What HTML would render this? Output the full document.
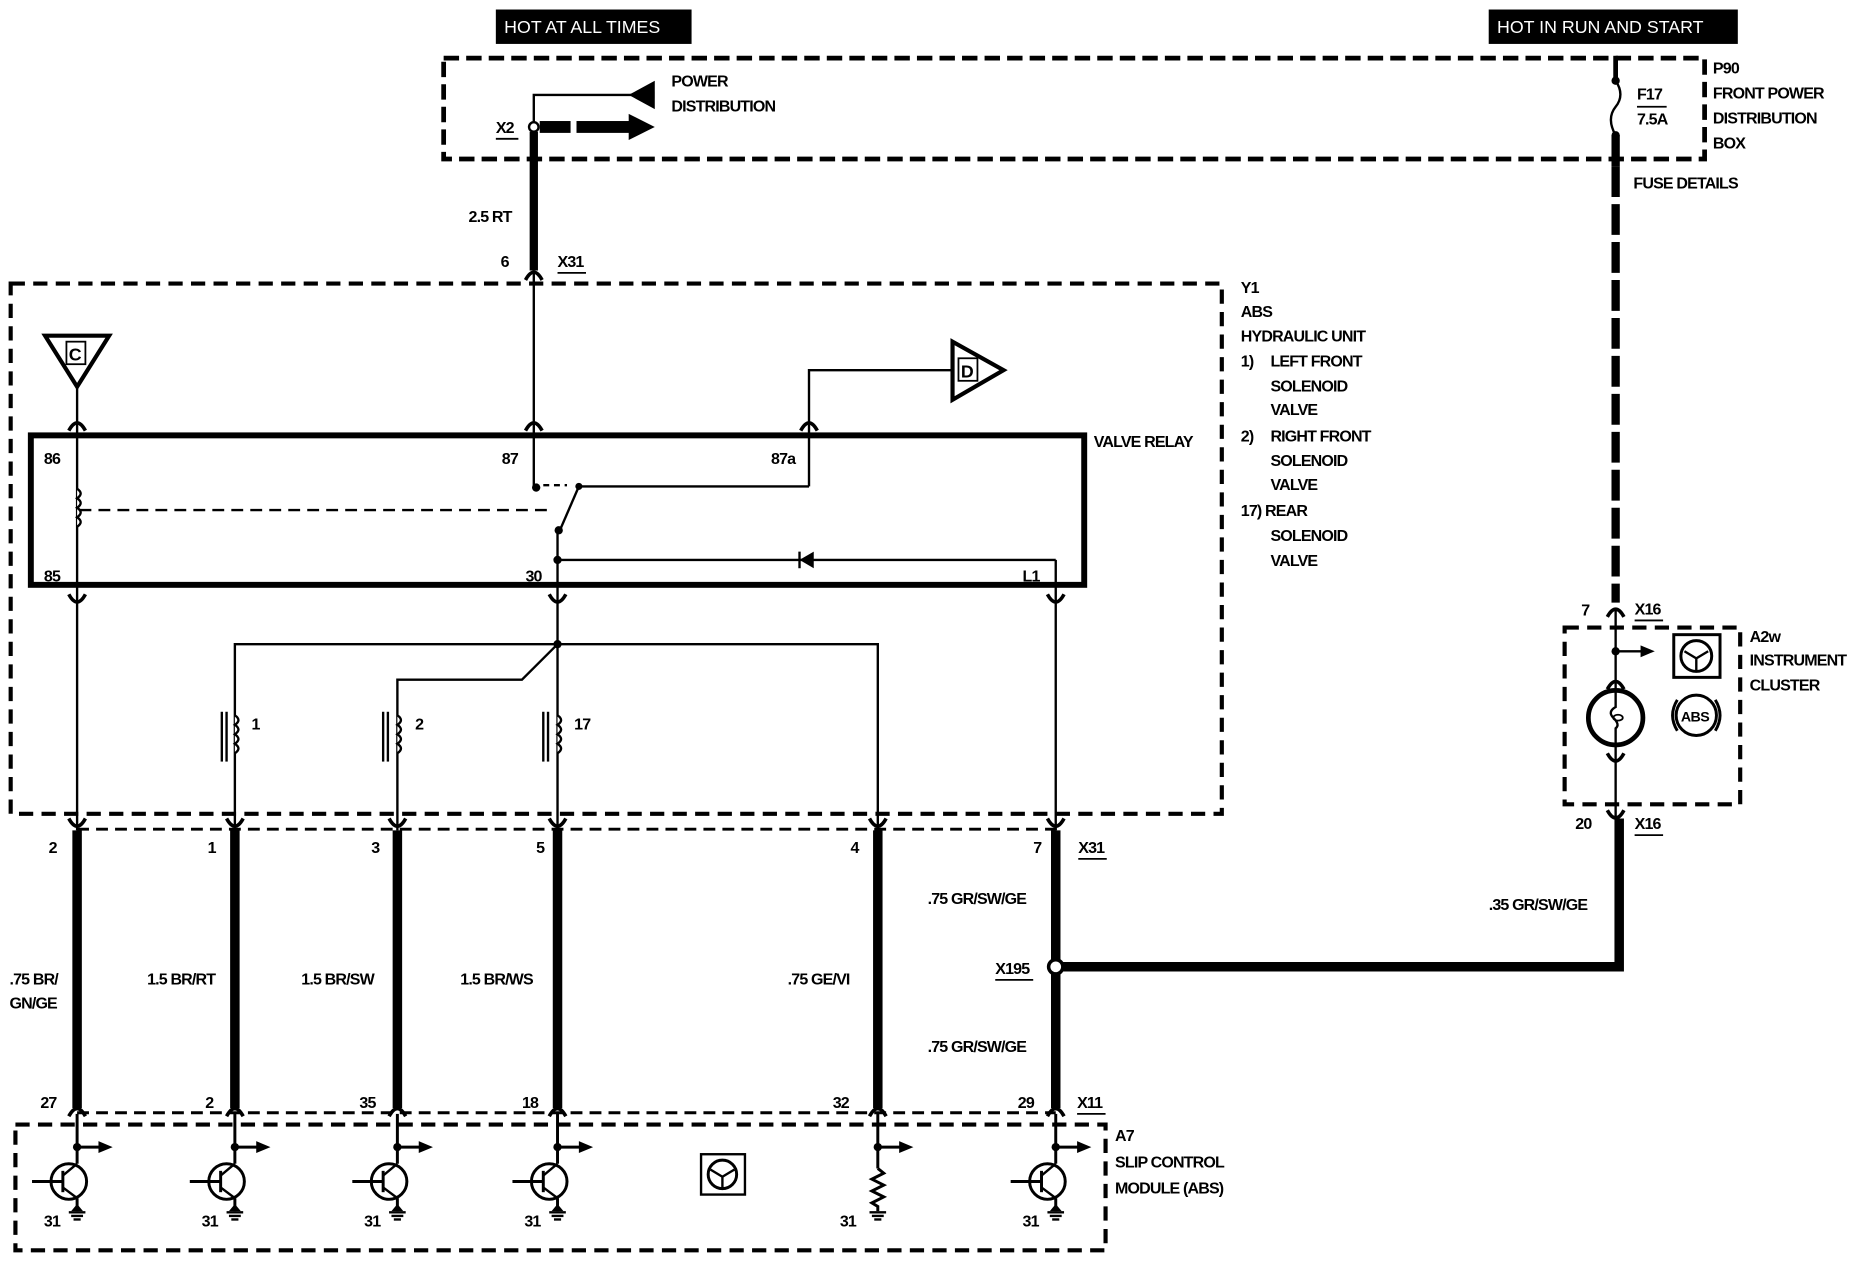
<!DOCTYPE html>
<html><head><meta charset="utf-8"><style>
html,body{margin:0;padding:0;background:#fff;}
svg{display:block;}
text{font-family:"Liberation Sans",sans-serif;font-weight:bold;font-size:13.5px;letter-spacing:-0.7px;fill:#000;}
.w{fill:#fff;font-weight:normal;font-size:15px;letter-spacing:0;}
</style></head><body>
<svg width="1860" height="1280" viewBox="0 0 1568 1079" xmlns="http://www.w3.org/2000/svg">
<defs>
<g id="cu"><path d="M-7,7 Q0,-6 7,7" fill="none" stroke="#000" stroke-width="3"/></g>
<g id="cd"><path d="M-7,-5 Q0,8 7,-5" fill="none" stroke="#000" stroke-width="3"/></g>
<g id="tr">
<line x1="0" y1="-28" x2="0" y2="14" stroke="#000" stroke-width="2.5"/>
<circle cx="0" cy="0" r="3.5"/>
<line x1="0" y1="0" x2="20" y2="0" stroke="#000" stroke-width="2.5"/>
<path d="M18,-5 L30,0 L18,5Z"/>
<circle cx="-7" cy="29" r="15" fill="none" stroke="#000" stroke-width="2.5"/>
<line x1="-12" y1="20" x2="-12" y2="38" stroke="#000" stroke-width="2.5"/>
<line x1="-38" y1="29" x2="-12" y2="29" stroke="#000" stroke-width="2.5"/>
<line x1="-12" y1="24" x2="0" y2="14" stroke="#000" stroke-width="2"/>
<line x1="-12" y1="34" x2="0" y2="43" stroke="#000" stroke-width="2"/>
<line x1="0" y1="43" x2="0" y2="54" stroke="#000" stroke-width="2.5"/>
<path d="M-5,54 L0,48 L5,54Z"/>
<line x1="-7" y1="55" x2="7" y2="55" stroke="#000" stroke-width="2"/>
<line x1="-5" y1="58" x2="5" y2="58" stroke="#000" stroke-width="2"/>
<line x1="-3" y1="61" x2="3" y2="61" stroke="#000" stroke-width="2"/>
<text x="-28" y="67">31</text>
</g>
</defs>

<!-- header labels -->
<rect x="418" y="8" width="165" height="29" fill="#000"/>
<text class="w" x="425" y="28">HOT AT ALL TIMES</text>
<rect x="1255" y="8" width="210" height="29" fill="#000"/>
<text class="w" x="1262" y="28">HOT IN RUN AND START</text>

<!-- P90 box -->
<path d="M374,49 L1437,49 L1437,134 L374,134 Z" fill="none" stroke="#000" stroke-width="4" stroke-dasharray="13,6"/>
<text x="1444" y="62">P90</text>
<text x="1444" y="83">FRONT POWER</text>
<text x="1444" y="104">DISTRIBUTION</text>
<text x="1444" y="125">BOX</text>
<text x="1377" y="159">FUSE DETAILS</text>
<text x="1380" y="84">F17</text>
<line x1="1380" y1="90" x2="1405" y2="90" stroke="#000" stroke-width="1.5"/>
<text x="1380" y="105">7.5A</text>
<!-- fuse -->
<line x1="1362" y1="47" x2="1362" y2="68" stroke="#000" stroke-width="4"/>
<circle cx="1362" cy="68" r="3.5"/>
<path d="M1362,68 Q1370,80 1362,90 Q1354,100 1362,114" fill="none" stroke="#000" stroke-width="2"/>
<circle cx="1362" cy="114" r="3.5"/>
<line x1="1362" y1="114" x2="1362" y2="140" stroke="#000" stroke-width="7"/>
<line x1="1362" y1="140" x2="1362" y2="508" stroke="#000" stroke-width="7" stroke-dasharray="26,6"/>

<!-- power distribution -->
<text x="566" y="73">POWER</text>
<text x="566" y="94">DISTRIBUTION</text>
<path d="M450,107 L450,80 L533,80" fill="none" stroke="#000" stroke-width="2"/>
<path d="M530,80 L552,68 L552,92 Z"/>
<rect x="455" y="102" width="26" height="10"/>
<rect x="486" y="102" width="46" height="10"/>
<path d="M530,96 L552,107 L530,118 Z"/>
<circle cx="450" cy="107" r="4" fill="#fff" stroke="#000" stroke-width="2"/>
<text x="418" y="112">X2</text>
<line x1="418" y1="117" x2="437" y2="117" stroke="#000" stroke-width="1.5"/>
<line x1="450" y1="111" x2="450" y2="228" stroke="#000" stroke-width="7"/>
<text x="395" y="187">2.5 RT</text>
<text x="422" y="225">6</text>
<text x="470" y="225">X31</text>
<line x1="470" y1="230" x2="494" y2="230" stroke="#000" stroke-width="1.5"/>
<use href="#cu" x="450" y="229"/>

<!-- Y1 box -->
<path d="M9,239 L1030,239 L1030,686 L9,686 Z" fill="none" stroke="#000" stroke-width="3.5" stroke-dasharray="12,7"/>
<text x="1046" y="247">Y1</text>
<text x="1046" y="267">ABS</text>
<text x="1046" y="288">HYDRAULIC UNIT</text>
<text x="1046" y="309">1)</text><text x="1071" y="309">LEFT FRONT</text>
<text x="1071" y="330">SOLENOID</text>
<text x="1071" y="350">VALVE</text>
<text x="1046" y="372">2)</text><text x="1071" y="372">RIGHT FRONT</text>
<text x="1071" y="393">SOLENOID</text>
<text x="1071" y="413">VALVE</text>
<text x="1046" y="435">17) REAR</text>
<text x="1071" y="456">SOLENOID</text>
<text x="1071" y="477">VALVE</text>

<!-- C and D -->
<path d="M38,283 L92,283 L65,326 Z" fill="#fff" stroke="#000" stroke-width="3.5"/>
<rect x="56" y="288" width="16" height="19" fill="none" stroke="#000" stroke-width="1.5"/>
<text x="58" y="304" style="font-size:15px;letter-spacing:0">C</text>
<path d="M803,288 L846,312 L803,337 Z" fill="#fff" stroke="#000" stroke-width="3.5"/>
<rect x="808" y="302" width="16" height="19" fill="none" stroke="#000" stroke-width="1.5"/>
<text x="810" y="318" style="font-size:15px;letter-spacing:0">D</text>
<path d="M682,358 L682,312 L803,312" fill="none" stroke="#000" stroke-width="2"/>
<line x1="65" y1="326" x2="65" y2="700" stroke="#000" stroke-width="2"/>
<line x1="450" y1="231" x2="450" y2="410" stroke="#000" stroke-width="2"/>
<line x1="682" y1="358" x2="682" y2="410" stroke="#000" stroke-width="2"/>
<use href="#cu" x="65" y="356"/>
<use href="#cu" x="450" y="356"/>
<use href="#cu" x="682" y="356"/>

<!-- valve relay -->
<rect x="26" y="367" width="888" height="126" fill="none" stroke="#000" stroke-width="5"/>
<text x="922" y="377">VALVE RELAY</text>
<text x="37" y="391">86</text>
<text x="423" y="391">87</text>
<text x="650" y="391">87a</text>
<text x="37" y="490">85</text>
<text x="443" y="490">30</text>
<text x="862" y="490">L1</text>
<path d="M65,412 q6,4 0,8 q6,4 0,8 q6,4 0,8 q6,4 0,8" fill="#fff" stroke="#000" stroke-width="2"/>
<line x1="67" y1="430" x2="465" y2="430" stroke="#000" stroke-width="2" stroke-dasharray="10,6"/>
<circle cx="452" cy="411" r="3.5"/>
<line x1="458" y1="409" x2="478" y2="409" stroke="#000" stroke-width="2" stroke-dasharray="5,4"/>
<circle cx="488" cy="410" r="3"/>
<path d="M488,410 L682,410" fill="none" stroke="#000" stroke-width="2"/>
<line x1="488" y1="410" x2="472" y2="447" stroke="#000" stroke-width="2"/>
<circle cx="471" cy="447" r="3.5"/>
<line x1="470" y1="447" x2="470" y2="700" stroke="#000" stroke-width="2"/>
<circle cx="470" cy="472" r="3.5"/>
<line x1="470" y1="472" x2="890" y2="472" stroke="#000" stroke-width="2"/>
<path d="M674,472 L686,465 L686,479 Z"/>
<line x1="674" y1="465" x2="674" y2="479" stroke="#000" stroke-width="2"/>
<line x1="890" y1="472" x2="890" y2="700" stroke="#000" stroke-width="2"/>
<use href="#cd" x="65" y="506"/>
<use href="#cd" x="470" y="506"/>
<use href="#cd" x="890" y="506"/>

<!-- solenoids -->
<circle cx="470" cy="543" r="3.5"/>
<path d="M198,700 L198,543 L740,543 L740,700" fill="none" stroke="#000" stroke-width="2"/>
<path d="M470,543 L440,573 L335,573 L335,700" fill="none" stroke="#000" stroke-width="2"/>
<g stroke="#000" stroke-width="2" fill="#fff">
<path d="M198,603 q6,4 0,8 q6,4 0,8 q6,4 0,8 q6,4 0,8"/>
<path d="M335,603 q6,4 0,8 q6,4 0,8 q6,4 0,8 q6,4 0,8"/>
<path d="M470,603 q6,4 0,8 q6,4 0,8 q6,4 0,8 q6,4 0,8"/>
<line x1="187" y1="600" x2="187" y2="642"/><line x1="191" y1="600" x2="191" y2="642"/>
<line x1="323" y1="600" x2="323" y2="642"/><line x1="327" y1="600" x2="327" y2="642"/>
<line x1="458" y1="600" x2="458" y2="642"/><line x1="462" y1="600" x2="462" y2="642"/>
</g>
<text x="212" y="615">1</text>
<text x="350" y="615">2</text>
<text x="484" y="615">17</text>

<!-- X31 connector row -->
<line x1="65" y1="699" x2="890" y2="699" stroke="#000" stroke-width="2.5" stroke-dasharray="10,6"/>
<g>
<use href="#cd" x="65" y="695"/><use href="#cd" x="198" y="695"/><use href="#cd" x="335" y="695"/>
<use href="#cd" x="470" y="695"/><use href="#cd" x="740" y="695"/><use href="#cd" x="890" y="695"/>
</g>
<text x="41" y="719">2</text><text x="175" y="719">1</text><text x="313" y="719">3</text>
<text x="452" y="719">5</text><text x="717" y="719">4</text><text x="871" y="719">7</text>
<text x="909" y="719">X31</text>
<line x1="909" y1="724" x2="933" y2="724" stroke="#000" stroke-width="1.5"/>

<!-- thick harness wires -->
<g stroke="#000" stroke-width="8">
<line x1="65" y1="700" x2="65" y2="934"/>
<line x1="198" y1="700" x2="198" y2="934"/>
<line x1="335" y1="700" x2="335" y2="934"/>
<line x1="470" y1="700" x2="470" y2="934"/>
<line x1="740" y1="700" x2="740" y2="934"/>
<line x1="890" y1="700" x2="890" y2="934"/>
<path d="M890,815 L1365,815 L1365,690" fill="none"/>
</g>
<circle cx="890" cy="815" r="6" fill="#fff" stroke="#000" stroke-width="3"/>
<text x="8" y="830">.75 BR/</text>
<text x="8" y="850">GN/GE</text>
<text x="124" y="830">1.5 BR/RT</text>
<text x="254" y="830">1.5 BR/SW</text>
<text x="388" y="830">1.5 BR/WS</text>
<text x="664" y="830">.75 GE/VI</text>
<text x="782" y="762">.75 GR/SW/GE</text>
<text x="839" y="821">X195</text>
<line x1="839" y1="826" x2="871" y2="826" stroke="#000" stroke-width="1.5"/>
<text x="782" y="887">.75 GR/SW/GE</text>
<text x="1255" y="767">.35 GR/SW/GE</text>

<!-- X11 row -->
<text x="34" y="934">27</text><text x="173" y="934">2</text><text x="303" y="934">35</text>
<text x="440" y="934">18</text><text x="702" y="934">32</text><text x="858" y="934">29</text>
<text x="908" y="934">X11</text>
<line x1="908" y1="939" x2="932" y2="939" stroke="#000" stroke-width="1.5"/>
<line x1="65" y1="938" x2="890" y2="938" stroke="#000" stroke-width="2.5" stroke-dasharray="10,6"/>
<use href="#cu" x="65" y="934"/><use href="#cu" x="198" y="934"/><use href="#cu" x="335" y="934"/>
<use href="#cu" x="470" y="934"/><use href="#cu" x="740" y="934"/><use href="#cu" x="890" y="934"/>

<!-- A7 box -->
<path d="M13,948 L932,948 L932,1054 L13,1054 Z" fill="none" stroke="#000" stroke-width="3.5" stroke-dasharray="12,7"/>
<text x="940" y="962">A7</text>
<text x="940" y="984">SLIP CONTROL</text>
<text x="940" y="1006">MODULE (ABS)</text>
<use href="#tr" x="65" y="967"/>
<use href="#tr" x="198" y="967"/>
<use href="#tr" x="335" y="967"/>
<use href="#tr" x="470" y="967"/>
<use href="#tr" x="890" y="967"/>
<!-- resistor column -->
<g stroke="#000" stroke-width="2.5" fill="none">
<line x1="740" y1="939" x2="740" y2="985"/>
<line x1="740" y1="967" x2="760" y2="967"/>
<path d="M740,985 l5,4 l-10,5 l10,5 l-10,5 l10,5 l-10,5 l5,3 L740,1021"/>
<line x1="733" y1="1022" x2="747" y2="1022" stroke-width="2"/>
<line x1="735" y1="1025" x2="745" y2="1025" stroke-width="2"/>
<line x1="737" y1="1028" x2="743" y2="1028" stroke-width="2"/>
</g>
<circle cx="740" cy="967" r="3.5"/>
<path d="M758,962 L770,967 L758,972 Z"/>
<text x="708" y="1034">31</text>
<!-- steering symbol -->
<rect x="591" y="973" width="37" height="34" fill="none" stroke="#000" stroke-width="2"/>
<circle cx="609" cy="990" r="12" fill="none" stroke="#000" stroke-width="2.5"/>
<path d="M599,986 L609,992 L619,986 M609,992 L609,1001" fill="none" stroke="#000" stroke-width="2"/>

<!-- A2w -->
<use href="#cu" x="1362" y="513"/>
<text x="1333" y="519">7</text>
<text x="1378" y="518">X16</text>
<line x1="1378" y1="523" x2="1402" y2="523" stroke="#000" stroke-width="1.5"/>
<path d="M1319,529 L1467,529 L1467,678 L1319,678 Z" fill="none" stroke="#000" stroke-width="3.5" stroke-dasharray="12,7"/>
<text x="1475" y="541">A2w</text>
<text x="1475" y="561">INSTRUMENT</text>
<text x="1475" y="582">CLUSTER</text>
<line x1="1362" y1="513" x2="1362" y2="690" stroke="#000" stroke-width="2"/>
<circle cx="1362" cy="549" r="3.5"/>
<line x1="1362" y1="549" x2="1385" y2="549" stroke="#000" stroke-width="2"/>
<path d="M1383,544 L1395,549 L1383,554 Z"/>
<use href="#cu" x="1362" y="574"/>
<circle cx="1362" cy="605" r="23" fill="#fff" stroke="#000" stroke-width="4"/>
<path d="M1362,582 L1362,596 Q1355,600 1360,605 Q1366,611 1362,614 L1362,628" fill="none" stroke="#000" stroke-width="2"/>
<ellipse cx="1364" cy="605" rx="4" ry="2.5" fill="none" stroke="#000" stroke-width="1.5"/>
<use href="#cd" x="1362" y="640"/>
<rect x="1411" y="535" width="39" height="36" fill="none" stroke="#000" stroke-width="2.5"/>
<circle cx="1430" cy="553" r="13" fill="none" stroke="#000" stroke-width="2.5"/>
<path d="M1420,549 L1430,555 L1440,549 M1430,555 L1430,565" fill="none" stroke="#000" stroke-width="2"/>
<circle cx="1430" cy="603" r="17" fill="none" stroke="#000" stroke-width="2.5"/>
<path d="M1414,590 Q1406,603 1414,616 M1446,590 Q1454,603 1446,616" fill="none" stroke="#000" stroke-width="2.5"/>
<text x="1417" y="608" style="font-size:12px;letter-spacing:-0.5px">ABS</text>
<use href="#cd" x="1362" y="688"/>
<text x="1328" y="699">20</text>
<text x="1378" y="699">X16</text>
<line x1="1378" y1="704" x2="1402" y2="704" stroke="#000" stroke-width="1.5"/>
</svg>
</body></html>
